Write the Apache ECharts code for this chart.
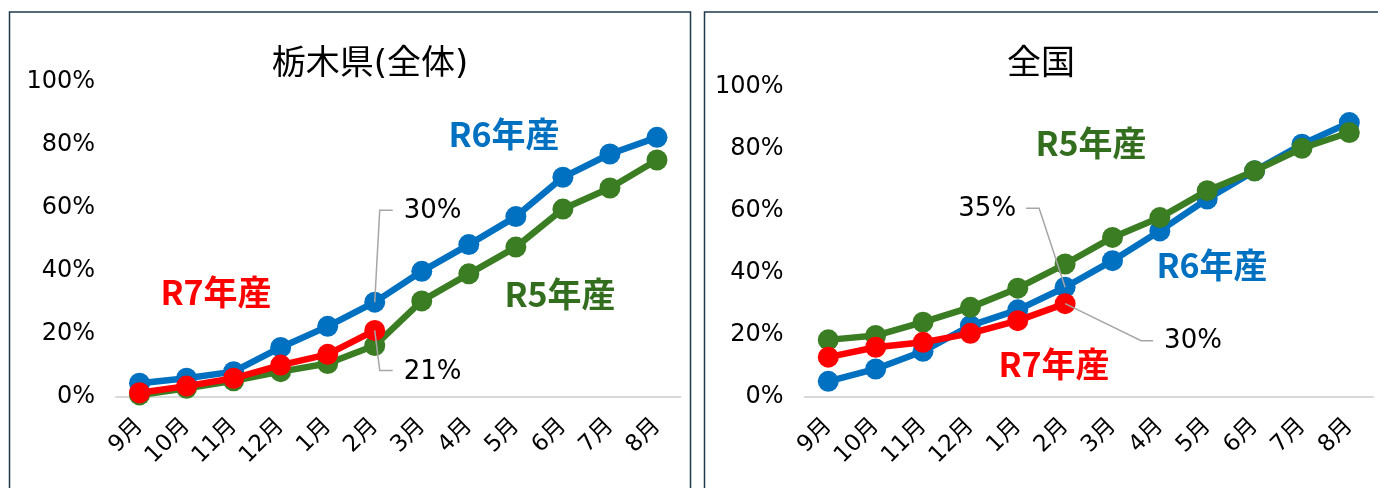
<!DOCTYPE html>
<html><head><meta charset="utf-8">
<script src="https://cdn.jsdelivr.net/npm/echarts@6/dist/echarts.min.js"></script>
<style>html,body{margin:0;padding:0;background:#fff}#c{width:1378px;height:488px}</style>
</head><body><div id="c"></div>
<script>
// ---- data ----
const months = ['9月','10月','11月','12月','1月','2月','3月','4月','5月','6月','7月','8月'];
const titleLeft = '栃木県(全体)';
const titleRight = '全国';
const nameR5 = 'R5年産';
const nameR6 = 'R6年産';
const nameR7 = 'R7年産';
const yTickValues = [0, 0.2, 0.4, 0.6, 0.8, 1.0];
// 栃木県(全体)
const tochigiR6 = [0.042, 0.058, 0.079, 0.156, 0.223, 0.300, 0.398, 0.483, 0.572, 0.697, 0.771, 0.824];
const tochigiR5 = [0.005, 0.026, 0.050, 0.079, 0.105, 0.162, 0.304, 0.390, 0.475, 0.596, 0.663, 0.752];
const tochigiR7 = [0.012, 0.033, 0.058, 0.100, 0.134, 0.210];
// 全国
const zenkokuR6 = [0.049, 0.089, 0.146, 0.229, 0.280, 0.353, 0.439, 0.535, 0.638, 0.729, 0.815, 0.885];
const zenkokuR5 = [0.183, 0.197, 0.240, 0.288, 0.350, 0.428, 0.514, 0.578, 0.665, 0.729, 0.802, 0.853];
const zenkokuR7 = [0.127, 0.159, 0.175, 0.204, 0.245, 0.300];

// ---- style ----
const FONT = "'DejaVu Sans', 'Noto Sans CJK JP', sans-serif";
const FONT_CJK = "'Noto Sans CJK JP', 'Noto Sans', sans-serif";
const BLUE = '#0070C0', GREEN = '#3B7D23', GREEN_TXT = '#336E1F', RED = '#FF0000';
const GRAY = '#A6A6A6';

const chart = echarts.init(document.getElementById('c'), null, {renderer: 'canvas'});

function xAxis(gi) {
  return {
    type: 'category', gridIndex: gi, data: months, boundaryGap: true,
    axisLine: {show: true, lineStyle: {color: '#D9D9D9', width: 2}},
    axisTick: {show: false},
    axisLabel: {rotate: 45, fontSize: 23, color: '#000', fontFamily: FONT, margin: 26, interval: 0}
  };
}
function yAxis(gi) {
  return {
    type: 'value', gridIndex: gi, min: 0, max: 1, interval: 0.2,
    axisLine: {show: false}, axisTick: {show: false}, splitLine: {show: false},
    axisLabel: {fontSize: 24, color: '#000', fontFamily: FONT, margin: 21,
      formatter: v => Math.round(v * 100) + '%'}
  };
}
function line(gi, name, data, color, z) {
  return {
    type: 'line', name, xAxisIndex: gi, yAxisIndex: gi, data, z,
    symbol: 'circle', symbolSize: 21, animation: false,
    lineStyle: {color, width: 6.5}, itemStyle: {color}
  };
}

chart.setOption({
  animation: false,
  backgroundColor: '#fff',
  grid: [
    {left: 116, top: 82, width: 564.5, height: 314.5},
    {left: 804.6, top: 87, width: 568.4, height: 309.5}
  ],
  xAxis: [xAxis(0), xAxis(1)],
  yAxis: [yAxis(0), yAxis(1)],
  series: [
    line(0, nameR6, tochigiR6, BLUE, 2),
    line(0, nameR5, tochigiR5, GREEN, 3),
    line(0, nameR7, tochigiR7, RED, 4),
    line(1, nameR6, zenkokuR6, BLUE, 2),
    line(1, nameR5, zenkokuR5, GREEN, 3),
    line(1, nameR7, zenkokuR7, RED, 4)
  ]
});

function px(gi, idx, v) { return chart.convertToPixel({gridIndex: gi}, [idx, v]); }
function txt(x, y, text, size, color, align, weight, family) {
  return {type: 'text', x, y, z: 100, silent: true,
    style: {text, fontSize: size, fontFamily: family || FONT, fontWeight: weight || 'normal', fill: color,
      align: align, textAlign: align, verticalAlign: 'middle', textVerticalAlign: 'middle'}};
}
function leader(points) {
  return {type: 'polyline', z: 90, silent: true, shape: {points},
    style: {stroke: GRAY, lineWidth: 1.5, fill: null}};
}
const pct = v => Math.round(v * 100) + '%';

const g = [];
// panel borders
g.push({type: 'rect', z: 1, silent: true, shape: {x: 9.5, y: 12, width: 681, height: 520},
  style: {fill: null, stroke: '#1F3A4D', lineWidth: 1.5}});
g.push({type: 'rect', z: 1, silent: true, shape: {x: 704.5, y: 12, width: 720, height: 520},
  style: {fill: null, stroke: '#1F3A4D', lineWidth: 1.5}});
// titles
g.push(txt(370, 65, titleLeft, 34, '#000', 'center'));
g.push(txt(1041, 65, titleRight, 34, '#000', 'center'));
// series name labels
const LW = 'bold', LS = 34;
g.push(txt(504, 134, nameR6, LS, BLUE, 'center', LW, FONT_CJK));
g.push(txt(216, 292, nameR7, LS, RED, 'center', LW, FONT_CJK));
g.push(txt(560, 294, nameR5, LS, GREEN_TXT, 'center', LW, FONT_CJK));
g.push(txt(1091, 143, nameR5, LS, GREEN_TXT, 'center', LW, FONT_CJK));
g.push(txt(1212, 265, nameR6, LS, BLUE, 'center', LW, FONT_CJK));
g.push(txt(1054, 364, nameR7, LS, RED, 'center', LW, FONT_CJK));

// callouts: left chart
const CS = 26;
let p = px(0, 5, tochigiR6[5]);
g.push(leader([[p[0] + 18, p[1] - 92], [p[0] + 5, p[1] - 92], [p[0], p[1]]]));
g.push(txt(p[0] + 29, p[1] - 91, pct(tochigiR6[5]), CS, '#000', 'left'));
p = px(0, 5, tochigiR7[5]);
g.push(leader([[p[0], p[1]], [p[0] + 5, p[1] + 40], [p[0] + 18, p[1] + 40]]));
g.push(txt(p[0] + 29, p[1] + 42, pct(tochigiR7[5]), CS, '#000', 'left'));
// callouts: right chart
p = px(1, 5, zenkokuR6[5]);
g.push(leader([[p[0] - 39, p[1] - 79], [p[0] - 26, p[1] - 79], [p[0], p[1]]]));
g.push(txt(p[0] - 49, p[1] - 78, pct(zenkokuR6[5]), CS, '#000', 'right'));
p = px(1, 5, zenkokuR7[5]);
g.push(leader([[p[0], p[1]], [p[0] + 76, p[1] + 37], [p[0] + 88, p[1] + 37]]));
g.push(txt(p[0] + 99, p[1] + 38, pct(zenkokuR7[5]), CS, '#000', 'left'));

chart.setOption({graphic: g});
</script></body></html>
